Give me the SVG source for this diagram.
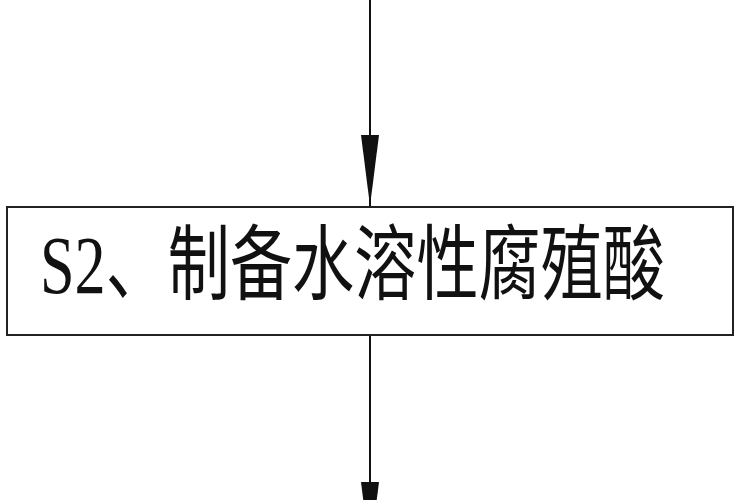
<svg xmlns="http://www.w3.org/2000/svg" width="750" height="500" viewBox="0 0 750 500">
  <style>
    .conn { stroke: #111; stroke-width: 2; fill: none; }
    .box { fill: #fff; stroke: #222; stroke-width: 2; }
    .label { font-family: "Liberation Serif", "Noto Sans CJK SC", serif; font-size: 82px; fill: #111; }
  </style>
  <defs>
    <marker id="arrow" viewBox="0 0 71 18" refX="71" refY="9" markerWidth="71" markerHeight="18" markerUnits="userSpaceOnUse" orient="auto">
      <path d="M0,0 L71,9 L0,18 Z" fill="#111"/>
    </marker>
  </defs>
  <rect width="750" height="500" fill="#fff"/>
  <g id="connectors">
    <path class="conn" d="M370,0 L370,206" marker-end="url(#arrow)"/>
    <path class="conn" d="M370,335 L370,553" marker-end="url(#arrow)"/>
  </g>
  <g id="node-s2">
    <rect class="box" x="7" y="207" width="726" height="128"/>
    <text class="label" transform="translate(40,293) scale(0.758,1)" x="0" y="0">S2、制备水溶性腐殖酸</text>
  </g>
</svg>
